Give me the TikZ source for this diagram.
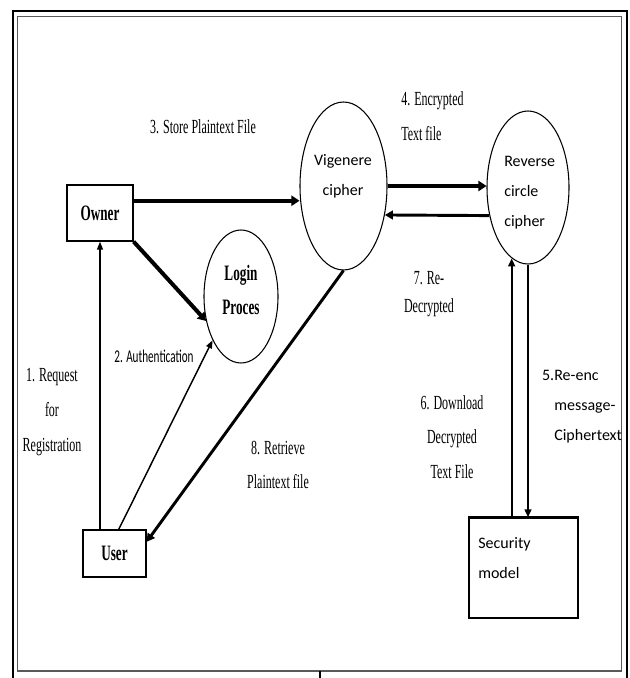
\documentclass[tikz,border=0pt]{standalone}
\usepackage{fontspec}
\setmainfont{Liberation Serif}
\newfontfamily\narrowserif[FakeStretch=0.6]{Liberation Serif}
\newfontfamily\narrowcal[FakeStretch=0.62]{Carlito}
\newfontfamily\calfont{Carlito}
\usepackage{tikz}
\usetikzlibrary{shapes.geometric, arrows.meta, calc}

\begin{document}
\begin{tikzpicture}[x=0.75pt, y=-0.75pt,
  box/.style={rectangle, draw, line width=1pt, inner sep=0pt},
  proc/.style={ellipse, draw, line width=0.8pt, inner sep=0pt},
  ttl/.style={font=\narrowserif\bfseries\fontsize{16.5}{25.5}\selectfont, align=center},
  lbl/.style={font=\narrowserif\fontsize{15}{26}\selectfont, align=center, inner sep=0pt},
  cal/.style={font=\calfont\fontsize{12}{22.5}\selectfont, align=left, inner sep=0pt},
  heavy/.style={line width=3pt, -{Triangle[length=6pt,width=7.5pt]}},
  medium/.style={line width=2.2pt, -{Triangle[length=6pt,width=6.5pt]}},
  vert/.style={line width=1.5pt, -{Triangle[length=6pt,width=5pt]}},
  light/.style={line width=1.1pt, -{Triangle[length=6pt,width=4.5pt]}}]
\useasboundingbox (0,0) rectangle (629,678);
% frame
\draw[line width=1.5pt] (13,678) -- (13,11) -- (627,11) -- (627,678);
\draw[black!65, line width=1.2pt] (17.5,16.5) rectangle (621.5,671);
\draw[line width=1.5pt] (320,671) -- (320,678);
% stores and processes
\node[box, ttl, minimum width=49.5pt, minimum height=42pt] (owner) at (100,213) {Owner};
\node[box, ttl, minimum width=47.25pt, minimum height=35.25pt] (user) at (114.5,553.5) {User};
\node[box, minimum width=81.75pt, minimum height=75pt] (sec) at (523.5,568) {};
\draw[line width=2pt] (sec.north west) -- (sec.north east);
\node[proc, minimum width=55.5pt, minimum height=99.75pt] (login) at (241,296.5) {};
\node[proc, minimum width=65.25pt, minimum height=126pt] (vig) at (343.5,186) {};
\node[proc, minimum width=61.5pt, minimum height=114.75pt] (rev) at (528,187.5) {};
\node[ttl] (logintxt) at (241,290) {Login\\Proces};
\node[cal, align=center] (vigtxt) at (343,176) {Vigenere\\cipher};
\node[cal, anchor=west] (revtxt) at (504,193) {Reverse\\circle\\cipher};
\node[cal, anchor=west] (sectxt) at (478,558) {Security\\model};
% flow labels
\node[lbl] (l1) at (52,412) {1. Request\\for\\Registration};
\node[font=\narrowcal\fontsize{13.5}{16}\selectfont, inner sep=0pt] (l2) at (154,356) {2. Authentication};
\node[lbl] (l3) at (203,127) {3. Store Plaintext File};
\node[lbl, align=left, anchor=west] (l4) at (401,116) {4. Encrypted\\Text file};
\node[cal, anchor=west] (l5) at (554,407) {\llap{5.}Re-enc\\message-\\Ciphertext};
\node[lbl] (l6) at (452,437) {6. Download\\Decrypted\\Text File};
\node[lbl, font=\narrowserif\fontsize{15}{21}\selectfont] (l7) at (429,294) {7. Re-\\Decrypted};
\node[lbl] (l8) at (278,465) {8. Retrieve\\Plaintext file};
% flows
\draw[light] (owner.south |- user.north) -- (owner.south);
\draw[light] (user.80) -- (login.237);
\draw[heavy] (owner.20) -- (owner.20 -| vig.west);
\draw[heavy] (owner.south east) -- (login.215);
\draw[heavy] (vig.east) -- (vig.east -| rev.west);
\draw[vert] (rev.south) -- (rev.south |- sec.north);
\draw[vert] (sec.north -| rev.257) -- (rev.257);
\draw[medium] (rev.216) -- (vig.-35);
\draw[medium] (vig.south) -- (user.20);
\end{tikzpicture}
\end{document}
